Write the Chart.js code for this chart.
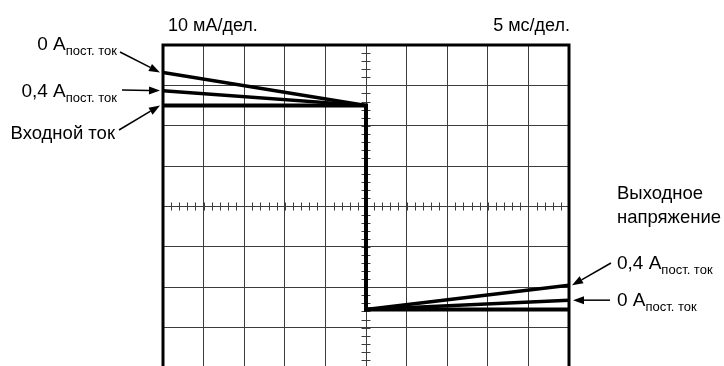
<!DOCTYPE html>
<html>
<head>
<meta charset="utf-8">
<script src="https://cdn.jsdelivr.net/npm/chart.js@4"></script>
<style>
  html, body { margin: 0; padding: 0; background: #fff; }
  #wrap { width: 724px; height: 366px; overflow: hidden; position: relative; }
</style>
</head>
<body>
<div id="wrap"><canvas id="scope" width="724" height="380"></canvas></div>
<script>
// =========================
// DATA (units: divisions)
// =========================
const timeDiv = [0, 5, 5, 10];
const inputCurrent = [2.5, 2.5, -2.55, -2.55];
const out0A = [3.32, 2.5, -2.55, -2.32];
const out04A = [2.87, 2.5, -2.55, -1.95];

const xDivs = [0, 10];
const yDivs = [-4, 4];

const topLabels = ["10 мА/дел.", "5 мс/дел."];
const sideLabels = ["0 A", "0,4 A", "Входной ток"];
const subLabel = "пост. ток";
const outLabel = ["Выходное", "напряжение"];

const FONT = '"Liberation Sans", Arial, sans-serif';
const GRID = "#3c3c3c";

function toPoints(vals) {
    return timeDiv.map((t, i) => ({ x: t, y: vals[i] }));
}

function arrow(ctx, x1, y1, x2, y2) {
    const a = Math.atan2(y2 - y1, x2 - x1);
    const len = 11, w = 4;
    ctx.beginPath();
    ctx.moveTo(x1, y1);
    ctx.lineTo(x2 - Math.cos(a) * len, y2 - Math.sin(a) * len);
    ctx.lineWidth = 1.5;
    ctx.stroke();
    ctx.beginPath();
    ctx.moveTo(x2, y2);
    ctx.lineTo(x2 - Math.cos(a) * len - Math.sin(a) * w, y2 - Math.sin(a) * len + Math.cos(a) * w);
    ctx.lineTo(x2 - Math.cos(a) * len + Math.sin(a) * w, y2 - Math.sin(a) * len - Math.cos(a) * w);
    ctx.closePath();
    ctx.fill();
}

// main text + subscript (right aligned at x, or left aligned)
function subText(ctx, main, x, base, alignLeft) {
    ctx.font = "19px " + FONT;
    const wMain = ctx.measureText(main).width;
    ctx.font = "13px " + FONT;
    const wSub = ctx.measureText(subLabel).width;
    const x0 = alignLeft ? x : x - wMain - wSub;
    ctx.textAlign = "left";
    ctx.font = "19px " + FONT;
    ctx.fillText(main, x0, base);
    ctx.font = "13px " + FONT;
    ctx.fillText(subLabel, x0 + wMain, base + 5);
}

// =========================
// SCOPE DECORATION PLUGIN
// =========================
const scopePlugin = {
    id: "scope",
    beforeDatasetsDraw(chart) {
        const { ctx, scales: { x, y } } = chart;
        ctx.save();
        ctx.strokeStyle = GRID;
        ctx.lineWidth = 1;
        // minor ticks on centre axes
        const cx = x.getPixelForValue(5), cy = y.getPixelForValue(0);
        ctx.beginPath();
        for (let v = yDivs[0]; v <= yDivs[1] + 1e-6; v += 0.2) {
            const py = Math.round(y.getPixelForValue(v)) + 0.5;
            ctx.moveTo(cx - 4.5, py); ctx.lineTo(cx + 4.5, py);
        }
        for (let v = xDivs[0]; v <= xDivs[1] + 1e-6; v += 0.2) {
            const px = Math.round(x.getPixelForValue(v)) + 0.5;
            ctx.moveTo(px, cy - 4); ctx.lineTo(px, cy + 4);
        }
        ctx.stroke();
        ctx.restore();
    },
    afterDraw(chart) {
        const { ctx, chartArea: a, scales: { x, y } } = chart;
        ctx.save();
        // frame
        ctx.strokeStyle = "#000";
        ctx.lineWidth = 3;
        ctx.strokeRect(a.left, a.top, a.right - a.left, a.bottom - a.top);

        ctx.fillStyle = "#000";
        ctx.textBaseline = "alphabetic";
        ctx.font = "18px " + FONT;
        ctx.textAlign = "left";
        ctx.fillText(topLabels[0], 168, 31);
        ctx.textAlign = "right";
        ctx.fillText(topLabels[1], 570, 31);

        // left labels
        subText(ctx, sideLabels[0], 117, 50);
        subText(ctx, sideLabels[1], 117, 97);
        ctx.font = "18.5px " + FONT;
        ctx.textAlign = "right";
        ctx.fillText(sideLabels[2], 115, 139);

        const xl = x.getPixelForValue(0) - 3;
        arrow(ctx, 120, 52, xl, y.getPixelForValue(out0A[0]));
        arrow(ctx, 122, 90, xl, y.getPixelForValue(out04A[0]));
        arrow(ctx, 119, 130, xl, y.getPixelForValue(inputCurrent[0]));

        // right labels
        ctx.font = "18.5px " + FONT;
        ctx.textAlign = "left";
        ctx.fillText(outLabel[0], 617, 199);
        ctx.fillText(outLabel[1], 617, 223);
        subText(ctx, sideLabels[1], 617, 269, true);
        subText(ctx, sideLabels[0], 617, 306, true);

        const xr = x.getPixelForValue(10) + 3;
        arrow(ctx, 611, 263, xr, y.getPixelForValue(out04A[3]));
        arrow(ctx, 610, y.getPixelForValue(out0A[3]), xr + 1, y.getPixelForValue(out0A[3]));
        ctx.restore();
    }
};

const traceStyle = {
    borderColor: "#000",
    borderWidth: 4,
    pointRadius: 0,
    tension: 0,
    fill: false,
    borderJoinStyle: "miter",
    borderCapStyle: "butt"
};

new Chart(document.getElementById("scope"), {
    type: "line",
    data: {
        datasets: [
            { label: "0 A", data: toPoints(out0A), ...traceStyle, borderWidth: 3.5 },
            { label: "0,4 A", data: toPoints(out04A), ...traceStyle, borderWidth: 3.5 },
            { label: "Входной ток", data: toPoints(inputCurrent), ...traceStyle }
        ]
    },
    options: {
        responsive: false,
        animation: false,
        events: [],
        layout: { padding: { left: 163, right: 155, top: 45, bottom: 12 } },
        plugins: { legend: { display: false }, tooltip: { enabled: false } },
        scales: {
            x: {
                type: "linear", min: xDivs[0], max: xDivs[1],
                ticks: { display: false, stepSize: 1 },
                grid: { color: GRID, lineWidth: 1, drawTicks: false },
                border: { display: false }
            },
            y: {
                type: "linear", min: yDivs[0], max: yDivs[1],
                ticks: { display: false, stepSize: 1 },
                grid: { color: GRID, lineWidth: 1, drawTicks: false },
                border: { display: false }
            }
        }
    },
    plugins: [scopePlugin]
});
</script>
</body>
</html>
